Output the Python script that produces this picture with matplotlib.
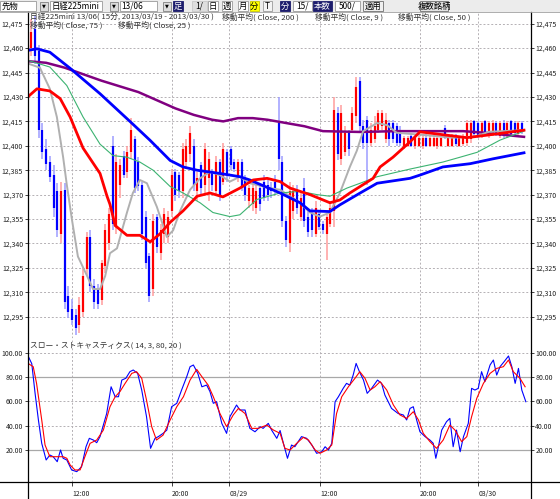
import matplotlib
matplotlib.use("Agg")
import matplotlib.pyplot as plt
import numpy as np
from matplotlib.patches import Rectangle

plt.rcParams["font.family"] = ["Noto Sans CJK JP", "DejaVu Sans"]

# 15-minute candles, Nikkei 225 mini 13/06 (bar index 0 = 03/28 09:00)
OPEN = [12450, 12460, 12472, 12458, 12410, 12398, 12390, 12382, 12372, 12346,
        12373, 12308, 12300, 12296, 12290, 12298, 12324, 12344, 12314, 12312,
        12305, 12326, 12340, 12400, 12350, 12376, 12394, 12384, 12396, 12404,
        12390, 12376, 12356, 12332, 12312, 12356, 12334, 12346, 12344, 12360,
        12384, 12382, 12372, 12390, 12395, 12400, 12372, 12388, 12376, 12380,
        12384, 12372, 12390, 12378, 12396, 12398, 12390, 12380, 12390, 12380,
        12366, 12364, 12362, 12374, 12378, 12376, 12374, 12378, 12414, 12390,
        12354, 12340, 12360, 12372, 12356, 12374, 12356, 12358, 12346, 12358,
        12352, 12346, 12352, 12360, 12420, 12392, 12396, 12408, 12410, 12418,
        12440, 12412, 12416, 12402, 12404, 12410, 12412, 12404, 12414, 12414,
        12412, 12410, 12400, 12400, 12406, 12400, 12400, 12400, 12405, 12400,
        12400, 12400, 12400, 12411, 12400, 12400, 12405, 12400, 12401, 12402,
        12404, 12415, 12414, 12406, 12415, 12406, 12407, 12414, 12406, 12414,
        12406, 12415, 12414, 12407, 12414]
HIGH = [12468, 12478, 12480, 12462, 12414, 12404, 12394, 12388, 12377, 12378,
        12377, 12314, 12306, 12300, 12307, 12325, 12347, 12348, 12318, 12315,
        12330, 12352, 12362, 12406, 12395, 12392, 12397, 12400, 12417, 12406,
        12393, 12378, 12360, 12334, 12358, 12358, 12352, 12362, 12360, 12386,
        12386, 12384, 12402, 12404, 12412, 12404, 12384, 12390, 12402, 12396,
        12386, 12394, 12392, 12402, 12398, 12400, 12392, 12392, 12392, 12382,
        12376, 12378, 12376, 12376, 12382, 12380, 12378, 12382, 12430, 12394,
        12357, 12378, 12376, 12376, 12372, 12380, 12360, 12362, 12366, 12360,
        12354, 12358, 12366, 12430, 12424, 12425, 12412, 12410, 12424, 12442,
        12442, 12416, 12418, 12414, 12418, 12422, 12422, 12420, 12416, 12416,
        12414, 12412, 12406, 12406, 12408, 12406, 12406, 12407, 12407, 12406,
        12407, 12406, 12406, 12413, 12406, 12407, 12407, 12406, 12407, 12416,
        12416, 12416, 12415, 12415, 12416, 12415, 12416, 12415, 12415, 12416,
        12415, 12416, 12415, 12415, 12415]
LOW = [12446, 12455, 12450, 12405, 12392, 12385, 12378, 12356, 12344, 12340,
       12300, 12294, 12290, 12284, 12285, 12295, 12320, 12310, 12300, 12300,
       12302, 12322, 12336, 12348, 12346, 12368, 12380, 12380, 12392, 12371,
       12372, 12342, 12325, 12304, 12308, 12334, 12330, 12340, 12340, 12356,
       12366, 12368, 12368, 12386, 12390, 12372, 12366, 12370, 12370, 12366,
       12372, 12370, 12366, 12376, 12378, 12385, 12384, 12378, 12372, 12366,
       12362, 12360, 12358, 12360, 12366, 12366, 12368, 12370, 12385, 12350,
       12338, 12335, 12355, 12358, 12354, 12350, 12344, 12344, 12344, 12348,
       12346, 12330, 12350, 12350, 12391, 12388, 12394, 12394, 12408, 12414,
       12408, 12398, 12376, 12400, 12402, 12408, 12410, 12402, 12400, 12402,
       12400, 12400, 12398, 12399, 12399, 12398, 12399, 12398, 12399, 12399,
       12399, 12398, 12399, 12404, 12399, 12399, 12400, 12399, 12400, 12400,
       12402, 12406, 12405, 12405, 12406, 12405, 12406, 12406, 12405, 12405,
       12405, 12406, 12406, 12406, 12407]
CLOSE = [12462, 12470, 12455, 12410, 12396, 12389, 12381, 12362, 12348, 12372,
         12304, 12298, 12293, 12288, 12302, 12320, 12344, 12314, 12304, 12303,
         12328, 12348, 12358, 12352, 12390, 12388, 12382, 12396, 12410, 12374,
         12375, 12346, 12328, 12308, 12354, 12338, 12348, 12358, 12356, 12382,
         12370, 12372, 12398, 12400, 12408, 12376, 12380, 12374, 12398, 12392,
         12376, 12390, 12370, 12398, 12382, 12388, 12386, 12390, 12374, 12370,
         12374, 12374, 12372, 12364, 12368, 12370, 12372, 12374, 12392, 12354,
         12342, 12372, 12372, 12362, 12368, 12354, 12347, 12348, 12362, 12350,
         12348, 12356, 12362, 12422, 12395, 12420, 12408, 12398, 12420, 12436,
         12412, 12402, 12402, 12410, 12412, 12420, 12420, 12416, 12404, 12404,
         12402, 12402, 12405, 12405, 12400, 12405, 12405, 12405, 12400, 12405,
         12405, 12405, 12405, 12405, 12405, 12405, 12401, 12405, 12406, 12414,
         12414, 12407, 12406, 12414, 12407, 12414, 12414, 12407, 12414, 12407,
         12414, 12407, 12408, 12414, 12409]

# moving averages, read at sample bars
MA200_BAR = [0, 5, 10, 15, 20, 25, 30, 35, 40, 45, 50, 53, 57, 61, 65, 70, 75,
             80, 90, 100, 110, 118, 124, 130, 134.5]
MA200_VAL = [12452, 12451, 12448, 12444, 12440, 12436.5, 12433, 12428, 12423,
             12419, 12416, 12415, 12417, 12417, 12416, 12414, 12412, 12409,
             12408.5, 12409, 12409, 12409, 12408, 12406.5, 12405.5]
MA9_BAR = [0, 3.3, 6, 7.9, 9.6, 10.6, 12, 13.6, 16.1, 17.7, 19.6, 21, 22.3,
           24.2, 26.9, 28.5, 30.4, 32.3, 35, 37.7, 39.4, 41.3, 44, 46.7, 49.4,
           52.1, 54.8, 57.5, 60.2, 65.7, 68.4, 71.1, 73.8, 76.5, 79.2, 81.9,
           84.6, 87.3, 89.2, 90.9, 94.7, 97.4, 100, 108, 115, 121, 125, 134.5]
MA9_VAL = [12450.6, 12448, 12435, 12417.7, 12393, 12376, 12354.5, 12332,
           12320, 12312, 12312, 12320, 12334, 12337, 12359, 12371, 12379,
           12377, 12362.5, 12344, 12348, 12360, 12373, 12380, 12384, 12382,
           12378, 12381, 12377, 12374, 12373, 12369, 12365, 12359, 12356.5,
           12359, 12371, 12387, 12397, 12409, 12414, 12412.7, 12408, 12406.5,
           12405, 12405.5, 12408.6, 12409.6]
MA50_BAR = [0, 2.5, 6, 11.5, 19.6, 27.7, 33.1, 38.6, 42.1, 45.9, 52.1, 57.5,
            60.2, 68.4, 73.8, 76.5, 81.9, 84.6, 90.1, 94.7, 103.6, 106.3,
            112.5, 119.9, 126.1, 134.5]
MA50_VAL = [12458.6, 12459.6, 12457.5, 12447.6, 12432, 12415, 12403.5, 12391,
            12387, 12385, 12383, 12381, 12379, 12371, 12365, 12360, 12359.6,
            12363.7, 12371, 12377, 12380, 12382, 12387, 12389, 12392, 12395.7]
MA75_BAR = [0, 6, 10.6, 15, 19.6, 23.1, 26.9, 30.4, 34, 38.6, 42.1, 46.7,
            50.2, 54.8, 57.5, 62.1, 68.4, 73.8, 78.4, 81.9, 86.5, 90.1, 94.7,
            103.6, 112.5, 117.2, 121.8, 128, 134.5]
MA75_VAL = [12452.5, 12448.4, 12437, 12417.7, 12401, 12394, 12393, 12390,
            12385, 12375, 12371, 12365, 12359, 12356.5, 12357.6, 12367, 12371,
            12372, 12370, 12369, 12374, 12377, 12381, 12385.7, 12390, 12393,
            12396, 12403.5, 12409]
MA25_BAR = [0, 2.5, 6, 8.8, 11.5, 15, 19.6, 21.5, 22.3, 23.7, 26.9, 30.4,
            33.2, 35.9, 38.6, 42.1, 45.9, 49.4, 52.9, 57.5, 61.1, 64.9, 68.4,
            71.1, 76.5, 81.9, 84.6, 87.3, 90.1, 93.6, 95.5, 99, 103.6, 106.3,
            113.6, 119, 126.1, 134.5]
MA25_VAL = [12430, 12435, 12433.7, 12429, 12417.7, 12398.6, 12383, 12369,
            12364, 12351, 12345, 12345, 12341, 12346, 12353, 12360, 12369,
            12371, 12368.6, 12374, 12379, 12380, 12378, 12374, 12370, 12365,
            12366.7, 12371, 12375, 12380, 12387, 12393, 12402.4, 12408.6,
            12406.5, 12405, 12407, 12409.6]

# slow stochastics (14, 3, 80, 20)
K_BAR = [0.2, 1.1, 2.0, 2.9, 3.8, 5.0, 6.0, 6.9, 8.0, 8.9, 9.6, 10.6, 11.9,
         13.3, 14.6, 15.8, 16.7, 17.8, 18.7, 19.6, 21.4, 22.6, 23.7, 24.6,
         25.5, 26.6, 27.7, 28.6, 29.8, 30.9, 32.2, 33.3, 34.5, 35.4, 36.7,
         37.7, 39.0, 40.4, 41.7, 43.1, 44.0, 44.9, 46.1, 47.2, 48.5, 49.4,
         50.3, 51.2, 52.6, 53.9, 54.8, 56.6, 57.5, 58.9, 60.2, 61.6, 63.0,
         63.8, 65.2, 66.1, 67.5, 68.4, 69.3, 70.4, 71.5, 72.4, 74.2, 75.6,
         77.0, 78.3, 79.7, 80.6, 81.5, 82.4, 83.3, 84.2, 85.5, 86.4, 87.3,
         88.2, 89.0, 89.9, 91.0, 92.0, 93.2, 94.8, 95.9, 96.8, 98.6, 100.4,
         101.8, 102.7, 103.6, 104.5, 105.4, 106.3, 107.7, 109.0, 109.9, 110.6,
         111.3, 112.2, 113.5, 114.4, 115.3, 116.2, 117.2, 118.1, 119.4, 120.3,
         121.2, 122.1, 123.0, 123.9, 125.3, 126.2, 127.1, 128.0, 129.1, 130.3,
         131.2, 132.1, 133.0, 133.9, 135.0]
K_VAL = [96.7, 91, 66.6, 44.7, 25.5, 11.8, 15.9, 14.5, 10.4, 20, 13.2, 11.8,
         3.6, 2.2, 6.3, 22.7, 29.6, 28.2, 26, 31, 50, 72, 63.8, 63.8, 77.5, 79,
         84.4, 85.8, 83, 69.3, 47.4, 21.4, 29.6, 31, 33.7, 36.4, 55.6, 58.4,
         69.3, 80.3, 88.5, 89.9, 83, 72, 73.4, 68, 58.4, 59.7, 41.9, 33.7,
         47.4, 57, 52.9, 52.9, 37.8, 35, 39.2, 37.8, 41.9, 36.4, 29.6, 36,
         25.5, 13.2, 24.1, 22.7, 31, 29.6, 24.1, 17.3, 18.6, 22.7, 20, 25.5,
         59.7, 63.8, 70.7, 74.8, 73.4, 81.6, 91.2, 84.4, 77.5, 66.6, 70.7,
         77.5, 74.8, 65.2, 54.2, 50, 48.8, 44.7, 54.2, 55.6, 44.7, 35, 31,
         28.2, 25.5, 13.2, 22.7, 36.4, 43.3, 46, 22.7, 36.4, 18.6, 31, 41.9,
         70.7, 69.3, 70.7, 84.4, 76.2, 89.9, 94, 81.6, 88.5, 92.6, 97.3, 88.5,
         74.8, 87.1, 69.3, 59.7]
D_BAR = [0.2, 1.5, 2.4, 3.8, 4.7, 6.0, 7.9, 9.6, 10.6, 11.5, 12.8, 14.2, 15.5,
         16.9, 18.7, 20.5, 22.3, 23.7, 25.0, 26.4, 28.2, 29.5, 30.9, 32.2,
         33.6, 34.9, 36.7, 38.6, 40.4, 42.2, 44.0, 45.8, 47.2, 48.9, 50.3,
         52.1, 53.9, 55.7, 57.1, 58.9, 60.7, 62.5, 64.8, 66.6, 68.4, 69.7,
         71.1, 72.9, 74.7, 76.1, 77.9, 79.2, 81.0, 82.4, 83.7, 85.1, 86.9,
         88.7, 90.0, 91.4, 92.8, 94.1, 95.5, 97.3, 99.1, 100.9, 102.7, 104.5,
         105.9, 107.2, 109.0, 110.8, 112.6, 114.4, 115.8, 117.6, 119.0, 120.3,
         121.7, 123.5, 125.3, 127.1, 128.9, 130.3, 131.6, 133.4, 134.8]
D_VAL = [91, 88.5, 74.8, 44.7, 24.1, 14.5, 14.5, 14.5, 13.2, 7.7, 3.6, 3.6,
         14.5, 25.5, 28.2, 36.4, 55.6, 63.8, 68, 74.8, 83, 84.4, 79, 61, 39.2,
         28.2, 32.3, 44.7, 55.6, 63.8, 77.5, 86.3, 80.3, 73.4, 63.8, 50, 39.2,
         48.8, 54.2, 50, 37.8, 37.8, 40.5, 36.4, 33.7, 21.4, 20, 25.5, 30.4,
         28.2, 20, 17.3, 20, 24.1, 50, 63.8, 72, 79, 84.4, 79, 69.3, 72, 76.2,
         69.3, 57, 48.8, 46, 51.5, 44.7, 33.7, 26.9, 21.4, 28.2, 40.5, 36.4,
         26.9, 31, 47.4, 62.5, 74.8, 83, 87.1, 88.5, 94, 84.4, 79, 72]

PRICE_TICKS = [12295, 12310, 12325, 12340, 12355, 12370, 12385, 12400, 12415,
               12430, 12445, 12460, 12475]
STOCH_TICKS = [20, 40, 60, 80, 100]
TIME_TICKS = [12, 39, 54.6, 79.2, 106.3, 122.1]
TIME_LABELS = ["12:00", "20:00", "03/29", "12:00", "20:00", "03/30"]

W, H = 560, 499
PLOT_L, PLOT_R = 28, 530.5
GRID = dict(color="#b4b0b4", ls=(0, (2, 2)), lw=0.7)


def fig_box(x0, y0, x1, y1):
    return [x0 / W, 1 - y1 / H, (x1 - x0) / W, (y1 - y0) / H]


fig = plt.figure(figsize=(W / 100, H / 100), dpi=100)
fig.patch.set_facecolor("white")

ax_p = fig.add_axes(fig_box(PLOT_L, 12.5, PLOT_R, 338))
ax_s = fig.add_axes(fig_box(PLOT_L, 338, PLOT_R, 482))

for ax in (ax_p, ax_s):
    ax.set_xlim(0.08, 136.26)
    for sp in ax.spines.values():
        sp.set_visible(False)
    ax.set_xticks(TIME_TICKS)
    ax.grid(axis="x", **GRID)
    ax.set_axisbelow(True)
    ax.tick_params(axis="y", which="both", left=True, right=True, labelleft=True,
                   labelright=True, direction="out", length=2.5, width=0.6,
                   labelsize=5, pad=1, colors="#202020")

# price panel
ax_p.set_ylim(12281.9, 12481.9)
ax_p.set_yticks(PRICE_TICKS, [f"{v:,}" for v in PRICE_TICKS])
ax_p.grid(axis="y", **GRID)
ax_p.tick_params(axis="x", bottom=False, labelbottom=False)

bars = np.arange(len(CLOSE))
o, hi, lo, c = (np.array(a, dtype=float) for a in (OPEN, HIGH, LOW, CLOSE))
up = c >= o
ax_p.vlines(bars[up], lo[up], hi[up], color="#ff9c9c", lw=1.1)
ax_p.vlines(bars[~up], lo[~up], hi[~up], color="#9c9cff", lw=1.1)
ax_p.vlines(bars[up], o[up], c[up], color="#ff0000", lw=1.6)
ax_p.vlines(bars[~up], c[~up], o[~up], color="#0000ff", lw=1.6)

ax_p.plot(MA200_BAR, MA200_VAL, color="#800080", lw=1.8)
ax_p.plot(MA9_BAR, MA9_VAL, color="#b0b0b0", lw=1.4)
ax_p.plot(MA75_BAR, MA75_VAL, color="#3cb371", lw=0.8)
ax_p.plot(MA50_BAR, MA50_VAL, color="#0000ff", lw=2.0)
ax_p.plot(MA25_BAR, MA25_VAL, color="#ff0000", lw=2.0)

# stochastics panel
ax_s.set_ylim(-6.3, 112.1)
ax_s.set_yticks(STOCH_TICKS, [f"{v:.2f}" for v in STOCH_TICKS])
for lvl in (100, 60, 40):
    ax_s.axhline(lvl, zorder=0, **GRID)
for lvl in (80, 20):
    ax_s.axhline(lvl, color="#a8a8a8", lw=0.9, zorder=0)
ax_s.plot(K_BAR, K_VAL, color="#0000ff", lw=0.8)
ax_s.plot(D_BAR, D_VAL, color="#ff0000", lw=0.8)
ax_s.set_xticks(TIME_TICKS, TIME_LABELS)
ax_s.tick_params(axis="x", direction="out", length=3, width=0.6,
                 labelsize=5, pad=2.5, colors="#202020")
for lbl in ax_s.get_xticklabels():
    lbl.set_ha("left")

# overlay in pixel coordinates: frame lines, captions, toolbar
ov = fig.add_axes([0, 0, 1, 1], zorder=5)
ov.set_xlim(0, W)
ov.set_ylim(H, 0)
ov.axis("off")
ov.patch.set_alpha(0)

ov.plot([PLOT_L, PLOT_L], [12, H], color="black", lw=0.9)
ov.plot([PLOT_R, PLOT_R], [12, H], color="black", lw=0.9)
ov.plot([0, W], [482, 482], color="black", lw=0.9)

cap = dict(fontsize=5.6, color="#303030", va="center", ha="left")
ov.text(30, 17, "日経225mini 13/06( 15分, 2013/03/19 - 2013/03/30 )", **cap)
ov.text(222, 17, "移動平均( Close, 200 )", **cap)
ov.text(315, 17, "移動平均( Close, 9 )", **cap)
ov.text(398, 17, "移動平均( Close, 50 )", **cap)
ov.text(30, 25.5, "移動平均( Close, 75 )", **cap)
ov.text(118, 25.5, "移動平均( Close, 25 )", **cap)
ov.text(30, 346, "スロー・ストキャスティクス( 14, 3, 80, 20 )", **cap)

ov.add_patch(Rectangle((0, 0), W, 12, facecolor="#ececec", edgecolor="none"))
ov.plot([0, W], [12, 12], color="#a0a0a0", lw=0.6)


def widget(x0, x1, label, face="white", fg="black", edge="#9a9a9a", align="left"):
    ov.add_patch(Rectangle((x0, 1), x1 - x0, 10, facecolor=face, edgecolor=edge, lw=0.6))
    if align == "left":
        ov.text(x0 + 1.5, 6.2, label, fontsize=6, color=fg, va="center", ha="left")
    else:
        ov.text((x0 + x1) / 2, 6.2, label, fontsize=6, color=fg, va="center", ha="center")


def arrow(x0):
    ov.add_patch(Rectangle((x0, 1.5), 7.5, 9, facecolor="#dcdcdc", edgecolor="#808080", lw=0.6))
    ov.text(x0 + 3.75, 6.3, "▼", fontsize=3.6, color="black", va="center", ha="center",
            family="DejaVu Sans")


NAVY = "#1c1c6c"
widget(0, 36, "先物")
arrow(40)
widget(50, 102, "日経225mini")
arrow(110)
widget(120, 157, "13/06")
arrow(163)
widget(173, 183, "足", face=NAVY, fg="white", edge=NAVY, align="center")
widget(192, 207, "1/", face="#dedede", edge="#c8c8c8", align="center")
widget(208, 218, "日", align="center")
widget(222, 232, "週", align="center")
widget(238, 248, "月", align="center")
widget(250, 258.5, "分", face="#ffff00", edge="#c8c800", align="center")
widget(263, 272, "T", face="#f4f4f4", align="center")
widget(280, 290, "分", face=NAVY, fg="white", edge=NAVY, align="center")
widget(293, 312, "15/", align="center")
widget(313, 332, "本数", face=NAVY, fg="white", edge=NAVY, align="center")
widget(335, 360, "500/", align="center")
widget(363, 383, "適用", face="#f0f0f0", edge="#707070", align="center")
widget(420, 448, "複数銘柄", face="#e4e4e4", edge="#707070", align="center")

fig.savefig("out.png", dpi=100, facecolor="white")
